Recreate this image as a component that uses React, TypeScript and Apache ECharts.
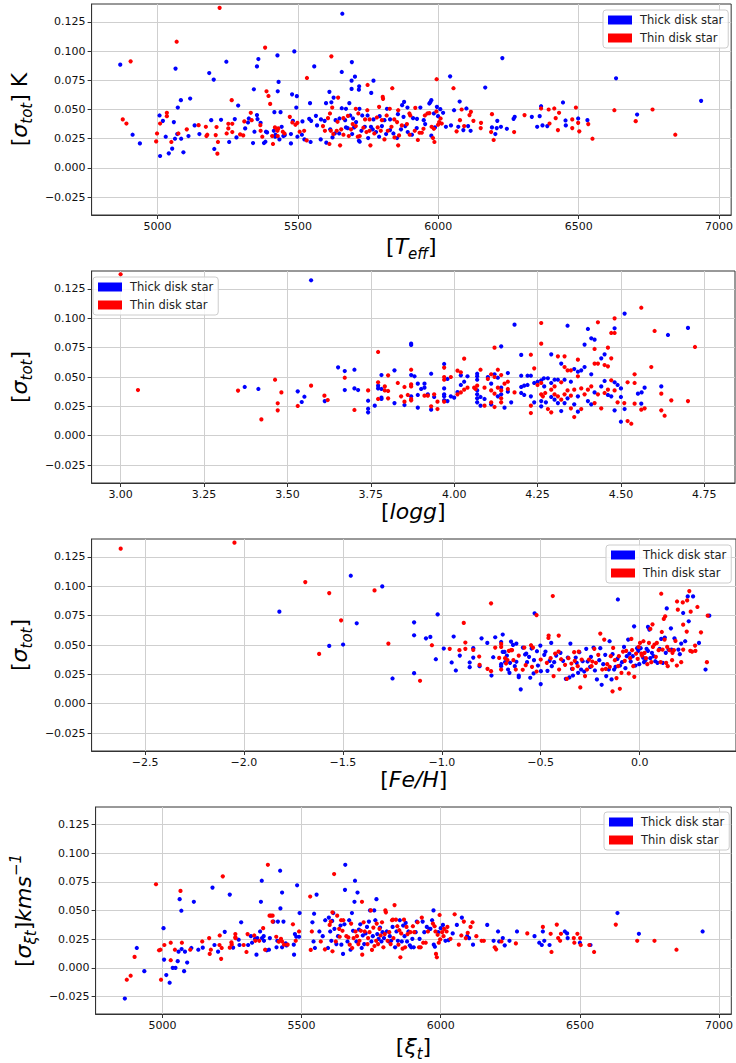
import React, { useEffect, useRef } from 'react';
import * as echarts from 'echarts';

const FONT = 'DejaVu Sans';
const THICK = 'Thick disk star';
const THIN = 'Thin disk star';

// Shared σ tick values (all four panels use the same vertical scale)
const sigmaTicks = [-0.025, 0, 0.025, 0.05, 0.075, 0.1, 0.125];
const teffTicks = [5000, 5500, 6000, 6500, 7000];
const loggTicks = [3.0, 3.25, 3.5, 3.75, 4.0, 4.25, 4.5, 4.75];
const fehTicks = [-2.5, -2.0, -1.5, -1.0, -0.5, 0.0];

// Panel 1: Teff vs σ_tot
const teffSigmaThick: [number, number][] = [
  [4867,0.0884],[4911,0.0284],[4937,0.021],[5007,0.0449],[5009,0.0102],[5019,0.0403],[5029,0.0267],[5040,0.0125],[5052,0.0165],[5058,0.0392],[5062,0.025],[5064,0.085],[5070,0.029],[5072,0.0517],[5083,0.058],[5084,0.025],[5092,0.0134],[5110,0.0273],[5116,0.0594],[5132,0.0364],[5149,0.029],[5184,0.0812],[5191,0.0409],[5200,0.0756],[5202,0.0162],[5226,0.0412],[5245,0.0909],[5255,0.0222],[5275,0.0418],[5281,0.0261],[5287,0.0534],[5312,0.0338],[5322,0.0389],[5325,0.0423],[5340,0.0213],[5343,0.0673],[5345,0.031],[5354,0.0869],[5354,0.0452],[5356,0.0418],[5359,0.0932],[5367,0.0386],[5379,0.0213],[5386,0.031],[5384,0.0224],[5390,0.0304],[5414,0.0318],[5416,0.0477],[5419,0.0267],[5420,0.0284],[5427,0.0963],[5428,0.0656],[5431,0.0736],[5434,0.0244],[5438,0.0477],[5442,0.0352],[5448,0.0273],[5453,0.0281],[5475,0.021],[5475,0.029],[5479,0.063],[5482,0.0403],[5487,0.0997],[5494,0.0517],[5496,0.0614],[5498,0.0267],
  [5658,0.132],[5692,0.0906],[5558,0.0869],[5656,0.0821],[5703,0.0781],[5691,0.0747],[5769,0.0747],[5718,0.0699],[5717,0.067],[5691,0.0676],[5612,0.0651],[5761,0.0642],[5627,0.0602],[5878,0.0565],[5600,0.0554],[5619,0.0562],[5543,0.0554],[5683,0.0554],[5871,0.0537],[5671,0.0506],[5656,0.0511],[5719,0.0506],[5817,0.0506],[5890,0.0517],[5936,0.0517],[5968,0.0551],[5975,0.058],[5971,0.0562],[5995,0.0523],[6007,0.0503],[5564,0.0446],[5540,0.042],[5547,0.0403],[5516,0.0398],[5595,0.0403],[5582,0.0415],[5634,0.0409],[5648,0.0423],[5668,0.0409],[5686,0.0449],[5696,0.0423],[5707,0.0392],[5729,0.0449],[5748,0.0449],[5769,0.0415],[5791,0.0443],[5808,0.0409],[5828,0.0415],[5856,0.046],[5876,0.0437],[5910,0.0426],[5924,0.042],[5948,0.0409],[5984,0.0466],[5999,0.0443],[6017,0.0472],[5988,0.0347],[6027,0.0352],[6045,0.0364],[5975,0.0276],[5514,0.0284],[5523,0.0244],[5545,0.0222],[5568,0.0364],[5581,0.0244],[5601,0.0216],[5615,0.033],[5623,0.0261],[5631,0.0295],[5647,0.0295],[5671,0.0347],[5677,0.0341],[5693,0.029],[5700,0.0347],[5717,0.0233],[5720,0.0224],[5726,0.0318],[5738,0.0352],[5750,0.0256],[5760,0.0352],[5766,0.033],[5778,0.0307],[5789,0.0267],[5799,0.0358],[5814,0.029],[5828,0.0324],[5840,0.0295],[5853,0.0256],[5867,0.033],[5882,0.0358],[5891,0.0307],[5906,0.0284],[5923,0.0341],[5953,0.0375],[6042,0.0784],[6076,0.0568],[6056,0.0494],[6100,0.0509],[6071,0.0352],[6089,0.0324],[6115,0.0318],[6106,0.0358],[6167,0.0688],[6228,0.094],[6191,0.0347],[6203,0.029],[6208,0.0341],[6210,0.0403],[6223,0.0352],[6244,0.0335],[6268,0.042],[6272,0.0437],[6333,0.0437],[6352,0.0352],
  [6633,0.0767],[6936,0.0574],[6366,0.0528],[6361,0.0443],[6371,0.0364],[6388,0.0358],[6444,0.056],[6453,0.0406],[6454,0.0364],[6498,0.0423],[6531,0.0409],[6708,0.0457],
];
const teffSigmaThin: [number, number][] = [
  [4876,0.0415],[4889,0.038],[4904,0.0912],[4995,0.0227],[4998,0.0295],[5009,0.038],[5033,0.0472],[5033,0.0443],[5049,0.0222],[5068,0.108],[5074,0.0295],[5104,0.033],[5146,0.0366],[5172,0.0352],[5174,0.0273],[5177,0.0284],[5207,0.0281],[5210,0.035],[5213,0.0122],[5215,0.0222],[5221,0.137],[5246,0.0295],[5252,0.0378],[5252,0.0338],[5264,0.058],[5266,0.0378],[5266,0.0307],[5294,0.0287],[5305,0.0278],[5309,0.0398],[5332,0.0472],[5335,0.0409],[5366,0.0366],[5367,0.0318],[5373,0.0267],[5383,0.103],[5388,0.0656],[5395,0.0616],[5401,0.0548],[5408,0.0273],[5411,0.0205],[5418,0.0347],[5426,0.033],[5427,0.0318],[5428,0.0273],[5430,0.0338],[5446,0.031],[5452,0.0295],[5471,0.0437],[5480,0.0389],[5491,0.0369],[5498,0.0386],[5506,0.031],
  [5619,0.0955],[5532,0.077],[5748,0.071],[5836,0.0682],[5643,0.0602],[5802,0.0608],[5803,0.0591],[5622,0.0517],[5706,0.0506],[5789,0.0523],[5747,0.0494],[5918,0.0514],[5827,0.0506],[5857,0.0494],[5993,0.0483],[5968,0.0469],[5952,0.0449],[5614,0.0466],[5607,0.0426],[5641,0.0395],[5662,0.0426],[5678,0.0446],[5695,0.0375],[5715,0.0466],[5739,0.0415],[5755,0.0415],[5781,0.0432],[5799,0.0409],[5816,0.0449],[5843,0.0415],[5853,0.0392],[5897,0.0466],[5900,0.0449],[5961,0.0466],[6008,0.0423],[6003,0.0392],[6012,0.038],[5999,0.0369],[5976,0.0352],[5984,0.0335],[5986,0.0222],[5981,0.0256],[5522,0.0318],[5531,0.0236],[5589,0.0358],[5596,0.0318],[5612,0.0205],[5617,0.0318],[5626,0.029],[5638,0.0318],[5650,0.0193],[5654,0.033],[5662,0.0284],[5681,0.0273],[5689,0.033],[5706,0.0358],[5713,0.0267],[5720,0.0273],[5733,0.0344],[5744,0.0307],[5755,0.0318],[5758,0.0193],[5772,0.0295],[5784,0.0347],[5795,0.0318],[5808,0.0244],[5820,0.0318],[5833,0.0352],[5844,0.0261],[5857,0.0193],[5860,0.0278],[5870,0.0364],[5888,0.0375],[5898,0.0284],[5916,0.0318],[5927,0.0239],[5933,0.0301],[5941,0.0301],[5947,0.0335],[6054,0.0682],[5994,0.0759],[6083,0.05],[6116,0.048],[6111,0.0452],[6077,0.0409],[6092,0.0358],[6065,0.0313],[6125,0.0403],[6152,0.0386],[6151,0.0341],[6191,0.046],[6188,0.0307],[6197,0.0239],[6270,0.0307],[6307,0.0452],
  [6366,0.0509],[6393,0.05],[6396,0.038],[6413,0.0509],[6418,0.0426],[6426,0.0324],[6430,0.0472],[6477,0.0415],[6477,0.0341],[6490,0.0517],[6498,0.0386],[6502,0.0313],[6534,0.0375],[6549,0.025],[6627,0.0494],[6703,0.04],[6763,0.05],[6844,0.0284],
];

// Panel 2: log g vs σ_tot
const loggSigmaThick: [number, number][] = [
  [3.372,0.0415],[3.413,0.0398],[3.531,0.0378],[3.543,0.0287],
  [3.571,0.1324],[3.551,0.0332],[3.612,0.0295],[3.652,0.0582],[3.672,0.0551],[3.672,0.0389],[3.701,0.0562],[3.701,0.0403],[3.712,0.0389],[3.742,0.0298],[3.742,0.023],[3.742,0.0199],[3.762,0.0256],[3.772,0.0426],[3.772,0.0403],[3.782,0.0517],[3.782,0.0398],[3.782,0.0324],[3.782,0.0313],[3.821,0.0557],[3.821,0.0278],[3.851,0.0261],[3.871,0.0784],[3.871,0.0773],[3.871,0.0517],[3.871,0.0335],[3.881,0.0506],[3.891,0.0443],[3.891,0.0347],[3.891,0.0239],[3.901,0.0398],[3.911,0.0443],[3.911,0.0409],[3.921,0.0352],[3.931,0.0528],[3.931,0.0222],[3.94,0.033],[3.97,0.0611],[3.97,0.0403],[3.97,0.0352],[3.97,0.0335],[3.97,0.0301],[3.98,0.0483],[3.98,0.0295],[3.99,0.0335],[4.0,0.0324],[4.01,0.0372],[4.02,0.0514],[4.02,0.0432],[4.03,0.046],[4.04,0.0506],[4.069,0.0528],[4.069,0.0506],[4.069,0.0477],[4.069,0.0386],[4.069,0.0352],[4.069,0.0318],[4.069,0.0284],[4.079,0.033],[4.079,0.0256],[4.091,0.0313],[4.101,0.05],[4.111,0.0443],[4.111,0.0267],[4.121,0.0523],[4.131,0.0494],[4.131,0.0335],[4.141,0.0761],[4.141,0.0409],[4.141,0.0352],[4.151,0.0239],[4.161,0.0534],[4.161,0.0375],[4.171,0.0284],[4.181,0.0946],[4.201,0.0688],[4.201,0.0511],[4.201,0.0415],[4.201,0.0364],[4.21,0.0347],[4.21,0.0426],[4.22,0.0511],[4.22,0.0432],[4.23,0.0511],[4.23,0.0335],[4.24,0.0449],[4.24,0.0284],[4.25,0.046],
  [4.261,0.0472],[4.261,0.0295],[4.261,0.025],[4.269,0.0489],[4.27,0.042],[4.275,0.0284],[4.281,0.0489],[4.291,0.0693],[4.291,0.0449],[4.291,0.033],[4.301,0.0477],[4.301,0.0307],[4.311,0.0477],[4.311,0.0278],[4.321,0.0614],[4.321,0.021],[4.331,0.0477],[4.331,0.0278],[4.34,0.0937],[4.34,0.0318],[4.35,0.046],[4.36,0.0568],[4.36,0.0267],[4.371,0.0545],[4.371,0.0335],[4.371,0.0205],[4.381,0.0557],[4.391,0.0585],[4.391,0.0776],[4.401,0.0909],[4.401,0.0295],[4.411,0.083],[4.411,0.0523],[4.411,0.0267],[4.421,0.0818],[4.421,0.0369],[4.441,0.0659],[4.441,0.042],[4.451,0.0693],[4.451,0.0466],[4.461,0.0347],[4.471,0.0335],[4.481,0.0915],[4.481,0.0455],[4.481,0.0216],[4.49,0.0432],[4.5,0.0403],[4.5,0.033],[4.5,0.0119],[4.511,0.104],[4.511,0.0227],[4.551,0.0358],[4.562,0.0369],[4.561,0.0273],[4.571,0.0409],[4.621,0.042],[4.641,0.0858],[4.701,0.0918],
];
const loggSigmaThin: [number, number][] = [
  [3.0,0.1375],[3.052,0.0389],[3.352,0.0384],[3.422,0.0139],[3.463,0.0477],[3.471,0.0276],[3.471,0.0216],[3.482,0.0369],[3.531,0.0253],
  [3.571,0.0426],[3.611,0.0341],[3.621,0.0304],[3.672,0.0494],[3.701,0.0219],[3.742,0.0386],[3.772,0.0713],[3.772,0.0455],[3.772,0.0313],[3.792,0.042],[3.792,0.0386],[3.802,0.0381],[3.802,0.0514],[3.802,0.0318],[3.831,0.0449],[3.841,0.0335],[3.851,0.0415],[3.851,0.029],[3.861,0.0347],[3.871,0.0562],[3.871,0.0437],[3.871,0.042],[3.871,0.0313],[3.871,0.0301],[3.911,0.0341],[3.921,0.0341],[3.931,0.025],[3.94,0.0352],[3.95,0.029],[3.95,0.0227],[3.97,0.058],[3.97,0.05],[3.97,0.0477],[3.97,0.029],[3.99,0.05],[4.01,0.0554],[4.01,0.0352],[4.02,0.054],[4.02,0.0369],[4.03,0.0656],[4.03,0.0392],[4.04,0.0409],[4.06,0.0409],[4.064,0.0398],[4.069,0.0426],[4.079,0.0562],[4.091,0.0409],[4.091,0.0256],[4.101,0.0483],[4.111,0.0523],[4.111,0.0386],[4.111,0.0284],[4.121,0.075],[4.121,0.05],[4.121,0.0358],[4.121,0.0244],[4.131,0.0562],[4.131,0.0409],[4.141,0.0517],[4.141,0.0386],[4.141,0.0318],[4.141,0.0284],[4.151,0.0443],[4.161,0.046],[4.161,0.0398],[4.181,0.0369],[4.23,0.069],[4.23,0.0256],[4.23,0.0193],[4.24,0.0574],[4.25,0.0432],
  [4.261,0.096],[4.261,0.0784],[4.261,0.0449],[4.261,0.0352],[4.266,0.0335],[4.273,0.0364],[4.281,0.0227],[4.291,0.0392],[4.291,0.0199],[4.301,0.042],[4.301,0.0352],[4.311,0.0676],[4.311,0.0335],[4.321,0.0455],[4.321,0.0307],[4.331,0.0676],[4.331,0.0585],[4.331,0.0352],[4.34,0.0557],[4.34,0.0386],[4.35,0.0557],[4.35,0.0341],[4.35,0.0233],[4.36,0.0159],[4.36,0.0392],[4.371,0.0648],[4.371,0.0506],[4.381,0.0403],[4.381,0.0227],[4.391,0.0352],[4.401,0.0392],[4.411,0.042],[4.421,0.0739],[4.421,0.0614],[4.421,0.0278],[4.431,0.0966],[4.431,0.0614],[4.431,0.0352],[4.441,0.0233],[4.451,0.0602],[4.451,0.0364],[4.461,0.075],[4.461,0.0591],[4.461,0.0392],[4.471,0.0875],[4.471,0.0659],[4.471,0.0472],[4.481,0.1],[4.481,0.0875],[4.481,0.0386],[4.49,0.0284],[4.51,0.0278],[4.52,0.0125],[4.52,0.0455],[4.531,0.0102],[4.541,0.0523],[4.541,0.0449],[4.541,0.0273],[4.561,0.109],[4.561,0.0222],[4.571,0.0233],[4.591,0.0585],[4.601,0.0892],[4.621,0.0358],[4.621,0.0216],[4.631,0.017],[4.651,0.0301],[4.701,0.0295],[4.722,0.0756],
];

// Panel 3: [Fe/H] vs σ_tot
const fehSigmaThick: [number, number][] = [
  [-1.821,0.0784],[-1.46,0.109],[-1.301,0.0999],[-1.43,0.0685],[-1.569,0.0492],[-1.499,0.0504],[-1.249,0.0215],[-1.14,0.0693],[-1.14,0.0583],[-1.14,0.026],[-1.08,0.0557],[-1.058,0.0569],[-1.021,0.0761],[-1.03,0.0379],[-0.99,0.047],[-0.95,0.0351],[-0.94,0.0572],[-0.929,0.0283],[-0.909,0.041],[-0.859,0.0351],[-0.859,0.0311],[-0.841,0.0473],[-0.841,0.0393],[-0.809,0.032],[-0.799,0.0557],[-0.77,0.0518],[-0.749,0.024],[-0.74,0.0396],[-0.73,0.0566],[-0.7,0.0526],[-0.7,0.0337],[-0.7,0.032],[-0.692,0.0589],[-0.692,0.0441],[-0.683,0.0441],[-0.68,0.0354],[-0.671,0.041],[-0.665,0.0291],[-0.658,0.0263],[-0.655,0.0348],[-0.65,0.0529],[-0.64,0.0501],[-0.631,0.032],[-0.623,0.0357],[-0.623,0.0512],[-0.611,0.024],[-0.601,0.0122],[-0.611,0.0226],[-0.59,0.0478],[-0.579,0.0419],[-0.573,0.0427],[-0.569,0.0354],[-0.559,0.0399],[-0.553,0.0221],[-0.546,0.047],[-0.536,0.0258],[-0.534,0.0371],[-0.531,0.077],[-0.519,0.0447],[-0.514,0.0325],[-0.502,0.0495],[-0.5,0.0167],[-0.499,0.0277],
  [-0.482,0.0416],[-0.447,0.0518],[-0.476,0.0444],[-0.466,0.028],[-0.455,0.0365],[-0.444,0.032],[-0.432,0.0354],[-0.422,0.041],[-0.4,0.0433],[-0.387,0.0365],[-0.373,0.0212],[-0.363,0.0393],[-0.355,0.0224],[-0.35,0.0512],[-0.342,0.0297],[-0.337,0.024],[-0.323,0.0393],[-0.318,0.0348],[-0.311,0.0263],[-0.305,0.0439],[-0.296,0.0291],[-0.288,0.0362],[-0.28,0.0274],[-0.27,0.0467],[-0.263,0.0359],[-0.25,0.0314],[-0.246,0.0399],[-0.233,0.0478],[-0.226,0.0283],[-0.216,0.0207],[-0.204,0.0371],[-0.199,0.0473],[-0.192,0.0161],[-0.184,0.0337],[-0.174,0.0416],[-0.169,0.0235],[-0.156,0.0291],[-0.152,0.0532],[-0.142,0.0207],[-0.137,0.0422],[-0.129,0.0291],[-0.122,0.0314],[-0.112,0.0382],[-0.11,0.0888],[-0.099,0.0325],[-0.089,0.0354],[-0.079,0.0484],[-0.072,0.0303],[-0.065,0.0405],[-0.058,0.0546],[-0.052,0.0427],[-0.045,0.0359],[-0.035,0.0405],[-0.028,0.0659],[-0.021,0.0325],[-0.013,0.0473],[-0.007,0.045],[-0.002,0.0337],[0.005,0.0473],[0.017,0.0393],[0.022,0.0354],[0.029,0.0371],[0.035,0.0467],[0.042,0.045],[0.042,0.0654],[0.049,0.0631],[0.054,0.0388],[0.062,0.0433],[0.07,0.0405],[0.079,0.0362],[0.09,0.0348],[0.101,0.0467],[0.109,0.0552],[0.117,0.0348],[0.127,0.0563],[0.132,0.0433],[0.137,0.0812],[0.146,0.0461],[0.158,0.0642],[0.161,0.0461],[0.176,0.0557],[0.196,0.0461],[0.203,0.0422],[0.21,0.0512],[0.22,0.0773],[0.23,0.0532],[0.243,0.0914],[0.248,0.0702],[0.27,0.0914],[0.3,0.0518],[0.333,0.0291],[0.352,0.075],
];
const fehSigmaThin: [number, number][] = [
  [-2.623,0.1321],[-2.048,0.1372],[-1.69,0.1036],[-1.569,0.0942],[-1.34,0.0965],[-1.509,0.071],[-1.62,0.0424],[-1.27,0.0512],[-1.05,0.0498],[-1.11,0.0195],[-0.96,0.0467],[-0.911,0.0456],[-0.889,0.0688],[-0.881,0.0521],[-0.881,0.0467],[-0.841,0.0458],[-0.811,0.0402],[-0.809,0.0331],[-0.769,0.0297],[-0.751,0.0855],[-0.751,0.0277],[-0.73,0.0478],[-0.71,0.039],[-0.7,0.0509],[-0.7,0.0484],[-0.7,0.0291],[-0.68,0.0388],[-0.675,0.0342],[-0.668,0.0371],[-0.661,0.045],[-0.65,0.0456],[-0.645,0.0456],[-0.638,0.0371],[-0.626,0.0291],[-0.611,0.041],[-0.591,0.0289],[-0.583,0.0478],[-0.576,0.0328],[-0.549,0.0498],[-0.544,0.0314],[-0.539,0.0478],[-0.521,0.0755],[-0.521,0.0274],[-0.5,0.0376],
  [-0.439,0.0917],[-0.46,0.058],[-0.461,0.056],[-0.409,0.058],[-0.469,0.0348],[-0.45,0.0388],[-0.435,0.0235],[-0.427,0.0427],[-0.41,0.0444],[-0.407,0.0291],[-0.397,0.0379],[-0.377,0.0331],[-0.368,0.0212],[-0.36,0.0388],[-0.345,0.0342],[-0.338,0.0297],[-0.331,0.0439],[-0.328,0.0365],[-0.313,0.032],[-0.308,0.0444],[-0.3,0.0139],[-0.293,0.0376],[-0.276,0.0235],[-0.266,0.0291],[-0.256,0.0376],[-0.243,0.032],[-0.239,0.0359],[-0.229,0.0467],[-0.221,0.0348],[-0.209,0.0416],[-0.199,0.0597],[-0.189,0.0291],[-0.179,0.0546],[-0.171,0.0297],[-0.164,0.0337],[-0.151,0.0314],[-0.146,0.0405],[-0.137,0.0105],[-0.134,0.0475],[-0.125,0.0371],[-0.117,0.0218],[-0.109,0.032],[-0.105,0.0405],[-0.1,0.0127],[-0.092,0.0263],[-0.084,0.0444],[-0.075,0.0365],[-0.068,0.045],[-0.055,0.0258],[-0.048,0.0388],[-0.042,0.0552],[-0.038,0.0456],[-0.032,0.032],[-0.027,0.0229],[-0.018,0.0427],[-0.01,0.0382],[-0.005,0.0484],[0.002,0.0518],[0.009,0.0427],[0.012,0.041],[0.019,0.0532],[0.025,0.0433],[0.032,0.0388],[0.039,0.0337],[0.047,0.0518],[0.054,0.0637],[0.059,0.0354],[0.065,0.0676],[0.067,0.0484],[0.075,0.0504],[0.082,0.0399],[0.087,0.0518],[0.096,0.0456],[0.106,0.0354],[0.109,0.0937],[0.112,0.0611],[0.116,0.0461],[0.122,0.0722],[0.126,0.0546],[0.129,0.0744],[0.134,0.0348],[0.139,0.0484],[0.142,0.032],[0.151,0.0456],[0.164,0.0371],[0.166,0.0433],[0.173,0.0456],[0.181,0.0535],[0.188,0.0325],[0.189,0.0871],[0.193,0.0801],[0.21,0.0354],[0.218,0.0863],[0.22,0.0461],[0.22,0.0673],[0.238,0.0614],[0.24,0.088],[0.251,0.0959],[0.256,0.045],[0.258,0.0784],[0.265,0.0444],[0.28,0.0495],[0.282,0.045],[0.292,0.0824],[0.31,0.0608],[0.34,0.0354],[0.344,0.075],
];

// Panel 4: σ of microturbulence against the same temperature scale
const xiSigmaThick: [number, number][] = [
  [4865,-0.0268],[4908,0.0173],[4935,-0.0029],[5004,0.0346],[5006,0.0072],[5014,-0.0063],[5026,-0.013],[5037,0.0],[5047,0.0],[5055,0.0058],[5058,0.0141],[5062,0.0599],[5068,0.0498],[5069,0.0164],[5078,-0.0029],[5081,0.0141],[5089,0.0046],[5104,0.0173],[5113,0.0576],[5129,0.0158],[5145,0.0176],[5180,0.07],[5187,0.0199],[5200,0.0141],[5224,0.0314],[5242,0.0639],[5254,0.0176],[5274,0.0245],[5283,0.0397],[5277,0.0199],[5308,0.0199],[5318,0.0276],[5322,0.0219],[5333,0.0253],[5338,0.0115],[5341,0.0259],[5351,0.0317],[5354,0.0576],[5357,0.076],[5358,0.0259],[5364,0.0276],[5365,0.0236],[5375,0.0153],[5383,0.0158],[5386,0.0259],[5399,0.0403],[5410,0.0179],[5413,0.0236],[5415,0.0403],[5423,0.0847],[5424,0.0518],[5430,0.0657],[5430,0.0179],[5435,0.0403],[5443,0.0213],[5446,0.0196],[5472,0.0202],[5473,0.0115],[5476,0.0294],[5481,0.0271],[5484,0.072],[5491,0.0271],[5493,0.0478],
  [5554,0.0639],[5545,0.0472],[5539,0.0397],[5543,0.023],[5548,0.0173],[5564,0.0317],[5576,0.0276],[5585,0.0415],[5595,0.0173],[5598,0.0438],[5603,0.0317],[5607,0.0236],[5610,0.0409],[5614,0.0478],[5618,0.034],[5625,0.0207],[5631,0.0276],[5640,0.0369],[5643,0.0202],[5649,0.0121],[5654,0.038],[5656,0.068],[5657,0.0899],[5665,0.023],[5671,0.0415],[5676,0.0158],[5681,0.0478],[5685,0.0323],[5690,0.0576],[5692,0.076],[5697,0.023],[5701,0.0657],[5706,0.0334],[5711,0.038],[5716,0.0173],[5720,0.0282],[5725,0.0207],[5730,0.03],[5735,0.0357],[5742,0.0403],[5746,0.0501],[5751,0.023],[5756,0.0276],[5761,0.0501],[5765,0.0415],[5769,0.0599],[5772,0.0294],[5777,0.0253],[5782,0.0351],[5787,0.023],[5791,0.0311],[5796,0.0259],[5806,0.0317],[5813,0.023],[5817,0.0276],[5822,0.0236],[5827,0.0357],[5836,0.0179],[5841,0.0317],[5846,0.0236],[5853,0.0415],[5860,0.023],[5865,0.0369],[5870,0.0276],[5874,0.0392],[5879,0.023],[5884,0.0317],[5889,0.0196],[5894,0.0179],[5898,0.0253],[5903,0.0179],[5910,0.0311],[5914,0.0403],[5924,0.0253],[5935,0.0403],[5941,0.0311],[5950,0.0357],[5959,0.034],[5963,0.034],[5969,0.0415],[5974,0.0501],[5975,0.0202],[5979,0.0184],[5991,0.0311],[6000,0.0346],[6008,0.0374],[6017,0.0236],[6028,0.0242],[6043,0.03],[6058,0.0374],[6076,0.0438],[6095,0.0276],[6102,0.0259],[6116,0.0202],[6167,0.0374],[6190,0.0236],[6206,0.0317],[6210,0.023],[6223,0.0259],[6230,0.0196],[6247,0.0236],[6274,0.0317],[6337,0.0276],
  [6354,0.0219],[6363,0.0199],[6367,0.0317],[6372,0.0236],[6391,0.0199],[6446,0.0317],[6454,0.03],[6456,0.0259],[6500,0.0219],[6538,0.0199],[6635,0.0478],[6712,0.0297],[6941,0.0317],
];
const xiSigmaThin: [number, number][] = [
  [4872,-0.0104],[4886,-0.0069],[4900,0.0095],[4977,0.0729],[4988,0.0153],[4993,0.0158],[4995,-0.0104],[5007,0.0199],[5030,0.0219],[5030,0.0066],[5045,0.0158],[5065,0.0671],[5070,0.0219],[5100,0.0158],[5143,0.023],[5168,0.0259],[5170,0.0121],[5174,0.0158],[5205,0.0199],[5206,0.0282],[5211,0.0078],[5213,0.0173],[5217,0.0798],[5242,0.0176],[5248,0.0222],[5249,0.0204],[5262,0.0294],[5262,0.0265],[5263,0.0259],[5292,0.0199],[5302,0.0138],[5306,0.0294],[5330,0.0282],[5334,0.0236],[5348,0.0236],[5362,0.0346],[5369,0.0158],[5379,0.0899],[5385,0.0455],[5390,0.0455],[5396,0.0455],[5396,0.0403],[5409,0.0271],[5418,0.0228],[5426,0.0253],[5430,0.023],[5437,0.0202],[5450,0.0202],[5469,0.038],[5479,0.0236],[5491,0.0317],
  [5531,0.0622],[5537,0.0317],[5533,0.0156],[5569,0.023],[5584,0.0161],[5601,0.0374],[5605,0.0403],[5611,0.0144],[5617,0.0818],[5611,0.0484],[5623,0.023],[5628,0.0455],[5635,0.034],[5637,0.0271],[5642,0.0415],[5647,0.0323],[5650,0.0415],[5661,0.0276],[5668,0.0265],[5673,0.0202],[5678,0.0386],[5682,0.0173],[5687,0.0259],[5694,0.0317],[5699,0.0276],[5704,0.0207],[5708,0.0236],[5713,0.0323],[5717,0.0576],[5718,0.0115],[5723,0.0397],[5727,0.0317],[5737,0.0207],[5739,0.0259],[5744,0.0311],[5749,0.0501],[5753,0.0156],[5758,0.0351],[5762,0.019],[5768,0.0236],[5770,0.0386],[5775,0.0207],[5780,0.034],[5784,0.0282],[5789,0.0397],[5794,0.0179],[5799,0.0294],[5801,0.0501],[5803,0.0484],[5809,0.0236],[5815,0.0311],[5820,0.0207],[5825,0.0415],[5828,0.042],[5830,0.0259],[5834,0.0547],[5839,0.042],[5844,0.0363],[5848,0.0202],[5851,0.0328],[5855,0.0092],[5858,0.03],[5863,0.0167],[5868,0.042],[5872,0.0179],[5877,0.0357],[5881,0.0294],[5891,0.0311],[5900,0.0363],[5905,0.0311],[5917,0.0397],[5922,0.0179],[5928,0.0179],[5932,0.0438],[5937,0.0219],[5946,0.0219],[5954,0.0317],[5972,0.0386],[5978,0.0363],[5981,0.0317],[5983,0.0121],[5986,0.0092],[5989,0.0288],[5993,0.0219],[5996,0.0461],[5998,0.0248],[6005,0.0311],[6010,0.0276],[6012,0.034],[6021,0.0317],[6024,0.0357],[6035,0.0253],[6050,0.0467],[6065,0.0202],[6074,0.0282],[6083,0.0403],[6090,0.0259],[6097,0.0305],[6107,0.0357],[6114,0.0397],[6128,0.0276],[6147,0.0236],[6155,0.0236],[6194,0.0179],[6199,0.0161],[6218,0.023],[6270,0.0213],[6311,0.03],
  [6367,0.0357],[6395,0.0297],[6398,0.0138],[6417,0.0377],[6422,0.0259],[6429,0.0236],[6432,0.0297],[6478,0.0259],[6480,0.0219],[6491,0.0297],[6501,0.0259],[6503,0.0199],[6534,0.0199],[6551,0.0138],[6629,0.0377],[6706,0.0236],[6768,0.0236],[6847,0.0158],
];

const minus = (s: string) => s.replace('-', '\u2212');
const fixed = (d: number) => (v: number) => minus(v.toFixed(d));

const titleRich = {
  n: { fontFamily: FONT, fontSize: 22, color: '#000', lineHeight: 30 },
  i: { fontFamily: FONT, fontSize: 22, color: '#000', lineHeight: 30, fontStyle: 'italic' },
  s: { fontFamily: FONT, fontSize: 15, color: '#000', lineHeight: 13, fontStyle: 'italic', verticalAlign: 'bottom' },
  p: { fontFamily: FONT, fontSize: 15, color: '#000', lineHeight: 16, fontStyle: 'italic', verticalAlign: 'top' },
};

const gridLine = { show: true, lineStyle: { color: '#cfcfcf', width: 1 } };
const tickStyle = { lineStyle: { color: '#333', width: 1 } };
const labelBase = { fontFamily: FONT, fontSize: 11, color: '#111' };

function xAxisFor(i: number, min: number, max: number, ticks: number[], fmt: (v: number) => string, name: string, gap: number) {
  return {
    type: 'value', gridIndex: i, min, max,
    axisLine: { show: true, onZero: false, lineStyle: { color: '#333' } },
    axisTick: { show: true, customValues: ticks, length: 4, ...tickStyle },
    axisLabel: { ...labelBase, customValues: ticks, formatter: fmt, margin: 6 },
    splitLine: gridLine,
    name, nameLocation: 'middle', nameGap: gap,
    nameTextStyle: { rich: titleRich },
  };
}

function yAxisFor(i: number, name: string, gap: number) {
  return {
    type: 'value', gridIndex: i, min: -0.0403, max: 0.1403,
    axisLine: { show: true, onZero: false, lineStyle: { color: '#333' } },
    axisTick: { show: true, customValues: sigmaTicks, length: 4, ...tickStyle },
    axisLabel: { ...labelBase, customValues: sigmaTicks, formatter: fixed(3), margin: 6 },
    splitLine: gridLine,
    name, nameLocation: 'middle', nameGap: gap, nameRotate: 90,
    nameTextStyle: { rich: titleRich },
  };
}

function legendAt(left: number, top: number) {
  return {
    left, top, orient: 'vertical', data: [THICK, THIN], icon: 'rect',
    itemWidth: 24, itemHeight: 9, itemGap: 4, padding: [3, 5, 3, 5],
    borderColor: '#cccccc', borderWidth: 1, borderRadius: 3,
    backgroundColor: 'rgba(255,255,255,0.8)', selectedMode: false,
    textStyle: { fontFamily: FONT, fontSize: 11.5, color: '#222', lineHeight: 14, padding: [0, 0, 0, 3] },
  };
}

function scatter(name: string, color: string, i: number, data: [number, number][]) {
  return {
    type: 'scatter', name, xAxisIndex: i, yAxisIndex: i, data,
    symbol: 'circle', symbolSize: 4.2, itemStyle: { color, opacity: 1 },
    emphasis: { disabled: true }, silent: true,
  };
}

const BLUE = '#0000ff';
const RED = '#ff0000';

export default function App() {
  const ref = useRef<HTMLDivElement>(null);
  useEffect(() => {
    const chart = echarts.init(ref.current!, undefined, { renderer: 'svg' });
    chart.setOption({
      animation: false,
      backgroundColor: '#ffffff',
      grid: [
        { left: 87, top: 4, width: 648, height: 211, show: true, borderColor: '#333', borderWidth: 1, backgroundColor: 'transparent' },
        { left: 87, top: 271, width: 648, height: 212, show: true, borderColor: '#333', borderWidth: 1, backgroundColor: 'transparent' },
        { left: 87, top: 539, width: 649, height: 212, show: true, borderColor: '#333', borderWidth: 1, backgroundColor: 'transparent' },
        { left: 93, top: 807, width: 642, height: 207, show: true, borderColor: '#333', borderWidth: 1, backgroundColor: 'transparent' },
      ],
      xAxis: [
        xAxisFor(0, 4765, 7043, teffTicks, fixed(0), '{n|[}{i|T}{s|eff}{n|]}', 16),
        xAxisFor(1, 2.913, 4.842, loggTicks, fixed(2), '{n|[}{i|logg}{n|]}', 12),
        xAxisFor(2, -2.77, 0.487, fehTicks, fixed(1), '{n|[}{i|Fe/H}{n|]}', 13),
        xAxisFor(3, 4760, 7044, teffTicks, fixed(0), '{n|[}{i|ξ}{s|t}{n|]}', 17),
      ],
      yAxis: [
        yAxisFor(0, '{n|[}{i|σ}{s|tot}{n|] K}', 50),
        yAxisFor(1, '{n|[}{i|σ}{s|tot}{n|]}', 50),
        yAxisFor(2, '{n|[}{i|σ}{s|tot}{n|]}', 50),
        yAxisFor(3, '{n|[}{i|σ}{s|ξ}{s|t}{n|]}{i|kms}{p|−1}', 50),
      ],
      legend: [legendAt(603, 10), legendAt(93, 277), legendAt(606, 545), legendAt(604, 812)],
      series: [
        scatter(THICK, BLUE, 0, teffSigmaThick),
        scatter(THIN, RED, 0, teffSigmaThin),
        scatter(THICK, BLUE, 1, loggSigmaThick),
        scatter(THIN, RED, 1, loggSigmaThin),
        scatter(THICK, BLUE, 2, fehSigmaThick),
        scatter(THIN, RED, 2, fehSigmaThin),
        scatter(THICK, BLUE, 3, xiSigmaThick),
        scatter(THIN, RED, 3, xiSigmaThin),
      ],
    });
    return () => chart.dispose();
  }, []);
  return <div ref={ref} style={{ position: 'absolute', left: 0, top: 0, width: 736, height: 1063, background: '#fff' }} />;
}
